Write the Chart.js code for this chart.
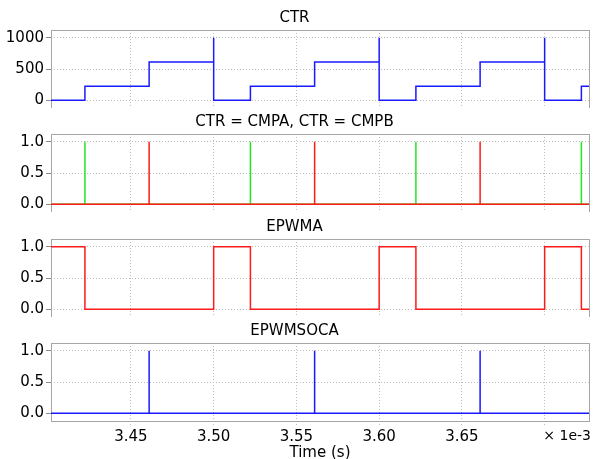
<!DOCTYPE html>
<html>
<head>
<meta charset="utf-8">
<script src="https://cdn.jsdelivr.net/npm/chart.js@4.4.1/dist/chart.umd.min.js"></script>
<style>
  body { margin: 0; background: #fff; overflow: hidden; }
  #wrap { position: relative; width: 603px; height: 459px; overflow: hidden; }
  #wrap canvas { position: absolute; left: 0; }
</style>
</head>
<body>
<div id="wrap">
  <canvas id="ctrChart" width="603" height="108" style="top:0px"></canvas>
  <canvas id="cmpChart" width="603" height="108" style="top:104px"></canvas>
  <canvas id="epwmaChart" width="603" height="108" style="top:209px"></canvas>
  <canvas id="socaChart" width="603" height="149" style="top:313px"></canvas>
</div>
<script>
// time axis, in ms (axis shows "x 1e-3" s)
const xMin = 3.4017;
const xMax = 3.7268;
const xTicks = [3.45, 3.50, 3.55, 3.60, 3.65, 3.70];

// CTR counter, held between samples
const ctrTime  = [3.4017, 3.4222, 3.4610, 3.5000, 3.5000, 3.5222, 3.5610, 3.6000, 3.6000, 3.6222, 3.6610, 3.7000, 3.7000, 3.7222, 3.7268];
const ctrValue = [0, 223, 611, 1000, 0, 223, 611, 1000, 0, 223, 611, 1000, 0, 223, 223];
const ctrTicks = [0, 500, 1000];

// CTR = CMPA (green) and CTR = CMPB (red) events
const cmpaTime  = [3.4017, 3.4222, 3.4222, 3.5222, 3.5222, 3.6222, 3.6222, 3.7222, 3.7222, 3.7268];
const cmpaValue = [0, 1, 0, 1, 0, 1, 0, 1, 0, 0];
const cmpbTime  = [3.4017, 3.4610, 3.4610, 3.5610, 3.5610, 3.6610, 3.6610, 3.7268];
const cmpbValue = [0, 1, 0, 1, 0, 1, 0, 0];

// EPWMA output
const epwmaTime  = [3.4017, 3.4222, 3.5000, 3.5222, 3.6000, 3.6222, 3.7000, 3.7222, 3.7268];
const epwmaValue = [1, 0, 1, 0, 1, 0, 1, 0, 0];

// EPWMSOCA trigger
const socaTime  = [3.4017, 3.4610, 3.4610, 3.5610, 3.5610, 3.6610, 3.6610, 3.7268];
const socaValue = [0, 1, 0, 1, 0, 1, 0, 0];

const unitTicks = [0, 0.5, 1.0];

const FONT = 'DejaVu Sans';
const toPoints = (t, v) => t.map((x, i) => ({ x: x, y: v[i] }));

// grey frame around the plot area
const framePlugin = {
  id: 'frame',
  beforeDatasetsDraw(chart) {
    const a = chart.chartArea;
    const ctx = chart.ctx;
    ctx.save();
    ctx.strokeStyle = '#a6a6a6';
    ctx.lineWidth = 1;
    ctx.strokeRect(Math.round(a.left) + 0.5, Math.round(a.top) + 0.5,
      Math.round(a.right - a.left), Math.round(a.bottom - a.top));
    ctx.restore();
  }
};

// "x 1e-3" exponent at the right of the time axis
const exponentPlugin = {
  id: 'exponent',
  afterDraw(chart) {
    const ctx = chart.ctx;
    ctx.save();
    ctx.font = '14px ' + FONT;
    ctx.fillStyle = '#000';
    ctx.textBaseline = 'top';
    ctx.textAlign = 'right';
    ctx.fillText('\u00d7 1e-3', 591, chart.chartArea.bottom + 8);
    ctx.restore();
  }
};

function makePanel(id, title, datasets, yTicks, yMin, yMax, yFmt, isBottom) {
  const xScale = {
    type: 'linear',
    min: xMin,
    max: xMax,
    afterBuildTicks: axis => { axis.ticks = xTicks.map(v => ({ value: v })); },
    grid: {
      color: '#bdbdbd',
      drawTicks: isBottom,
      tickLength: 4,
      tickColor: '#bdbdbd',
      tickBorderDash: [1, 2]
    },
    border: { display: false, dash: [1, 2] },
    ticks: {
      display: isBottom,
      color: '#000',
      padding: 3,
      maxRotation: 0,
      autoSkip: false,
      font: { family: FONT, size: 15 },
      callback: v => (Math.abs(v - 3.70) < 1e-6 ? '' : v.toFixed(2))
    }
  };
  if (isBottom) {
    xScale.title = {
      display: true,
      text: 'Time (s)',
      color: '#000',
      font: { family: FONT, size: 15 },
      padding: { top: 0, bottom: 0 }
    };
  }
  xScale.afterFit = axis => {
    axis.height = isBottom ? 41 : 0;
    axis.paddingLeft = 0;
    axis.paddingRight = 0;
  };

  new Chart(document.getElementById(id), {
    type: 'line',
    data: { datasets: datasets },
    options: {
      responsive: false,
      animation: false,
      devicePixelRatio: 1,
      layout: { padding: { left: 0, right: 14, top: 0, bottom: 0 } },
      elements: { point: { radius: 0 }, line: { tension: 0 } },
      plugins: {
        legend: { display: false },
        tooltip: { enabled: false },
        title: {
          display: true,
          text: title,
          color: '#000',
          font: { family: FONT, size: 15, weight: 'normal' },
          padding: { top: 9, bottom: 3 }
        }
      },
      scales: {
        x: xScale,
        y: {
          min: yMin,
          max: yMax,
          afterBuildTicks: axis => { axis.ticks = yTicks.map(v => ({ value: v })); },
          afterFit: axis => {
            axis.width = 51;
            axis.paddingTop = 0;
            axis.paddingBottom = 0;
          },
          grid: {
            color: '#bdbdbd',
            tickLength: 5,
            tickColor: '#8c8c8c'
          },
          border: { display: false, dash: [1, 2] },
          ticks: {
            color: '#000',
            padding: 2,
            font: { family: FONT, size: 15 },
            callback: yFmt
          }
        }
      }
    },
    plugins: isBottom ? [framePlugin, exponentPlugin] : [framePlugin]
  });
}

const lineStyle = color => ({
  borderColor: color,
  borderWidth: 1.5,
  stepped: 'before',
  fill: false,
  pointRadius: 0
});

makePanel('ctrChart', 'CTR',
  [Object.assign({ data: toPoints(ctrTime, ctrValue) }, lineStyle('#1a1aff'))],
  ctrTicks, -125, 1125, v => String(v), false);

makePanel('cmpChart', 'CTR = CMPA, CTR = CMPB',
  [Object.assign({ data: toPoints(cmpbTime, cmpbValue) }, lineStyle('#ff1a1a')),
   Object.assign({ data: toPoints(cmpaTime, cmpaValue) }, lineStyle('#22e622'))],
  unitTicks, -0.125, 1.125, v => v.toFixed(1), false);

makePanel('epwmaChart', 'EPWMA',
  [Object.assign({ data: toPoints(epwmaTime, epwmaValue) }, lineStyle('#ff1a1a'))],
  unitTicks, -0.125, 1.125, v => v.toFixed(1), false);

makePanel('socaChart', 'EPWMSOCA',
  [Object.assign({ data: toPoints(socaTime, socaValue) }, lineStyle('#1a1aff'))],
  unitTicks, -0.125, 1.125, v => v.toFixed(1), true);
</script>
</body>
</html>
